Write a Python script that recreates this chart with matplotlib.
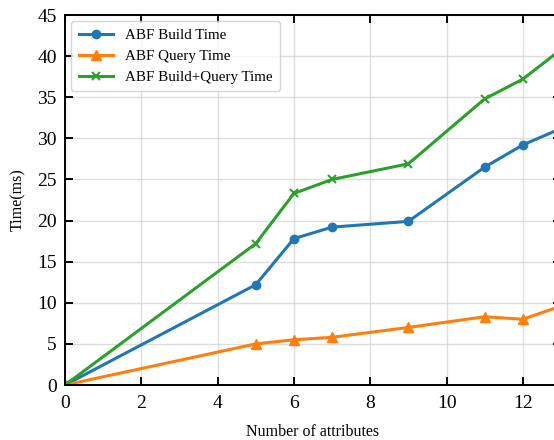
import matplotlib
matplotlib.use("Agg")
import matplotlib.pyplot as plt

x = [0, 5, 6, 7, 9, 11, 12, 13]
build = [0, 12.2, 17.8, 19.2, 19.9, 26.5, 29.2, 31.2]
query = [0, 5.0, 5.5, 5.8, 7.0, 8.3, 8.0, 9.6]
total = [0, 17.2, 23.3, 25.0, 26.9, 34.8, 37.2, 40.8]
labels = ["ABF Build Time", "ABF Query Time", "ABF Build+Query Time"]
xticks = [0, 2, 4, 6, 8, 10, 12]
yticks = [0, 5, 10, 15, 20, 25, 30, 35, 40, 45]

plt.rcParams['font.family'] = ['Liberation Serif', 'DejaVu Serif']
fig = plt.figure(figsize=(5.54, 4.40), dpi=100)
ax = fig.add_axes([65/554, 1-385/440, (561-65)/554, (385-15)/440])

ax.plot(x, build, color='#1f77b4', marker='o', markersize=6, linewidth=2.2, label=labels[0])
ax.plot(x, query, color='#ff7f0e', marker='^', markersize=6.5, linewidth=2.2, label=labels[1])
ax.plot(x, total, color='#2ca02c', marker='x', markersize=6, markeredgewidth=1.5, linewidth=2.2, label=labels[2])

ax.set_xlim(0, 13)
ax.set_ylim(0, 45)
ax.set_xticks(xticks)
ax.set_yticks(yticks)
ax.grid(True, color='#d0d0d0', linewidth=1.0, alpha=0.7)
ax.tick_params(direction='in', top=True, right=True, length=6, width=1.4, labelsize=14)
ax.tick_params(axis='x', pad=7)
ax.tick_params(axis='y', pad=6)
for s in ax.spines.values():
    s.set_linewidth(1.4)
ax.set_xlabel("Number of attributes", fontsize=11.5, labelpad=9)
ax.set_ylabel("Time(ms)", fontsize=11.5, labelpad=8)
ax.legend(loc='upper left', fontsize=10.8, framealpha=0.8, borderpad=0.5,
          handlelength=2.3, bbox_to_anchor=(0.0, 1.0), borderaxespad=0.4)

fig.savefig("out.png", dpi=100)
